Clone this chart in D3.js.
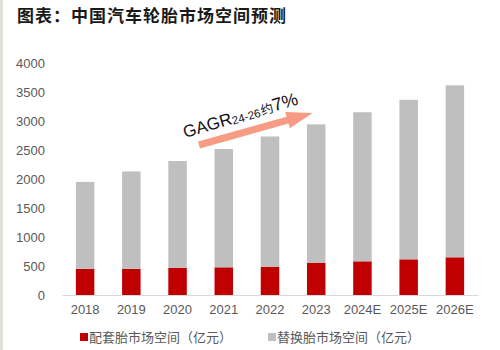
<!DOCTYPE html>
<html>
<head>
<meta charset="utf-8">
<script src="https://cdn.jsdelivr.net/npm/d3@7"></script>
<style>
  body { margin: 0; background: #fff; }
  svg { display: block; font-family: "Liberation Sans", Arial, sans-serif; }
</style>
</head>
<body>
<div id="chart"></div>
<script>
// 中国汽车轮胎市场空间预测 (亿元)
const years = ["2018", "2019", "2020", "2021", "2022", "2023", "2024E", "2025E", "2026E"];
const oemValues = [450, 450, 470, 477, 483, 552, 581, 615, 650];          // 配套胎
const replaceValues = [1500, 1680, 1840, 2040, 2250, 2390, 2570, 2750, 2965]; // 替换胎
const yTicks = [0, 500, 1000, 1500, 2000, 2500, 3000, 3500, 4000];
const seriesNames = ["配套胎市场空间（亿元）", "替换胎市场空间（亿元）"];
const colors = ["#C00000", "#BFBFBF"];

const width = 500, height = 350;
const margin = { top: 63, right: 22, bottom: 55, left: 62 };

const svg = d3.select("#chart").append("svg")
    .attr("width", width)
    .attr("height", height);

// left page edge strip
svg.append("rect")
    .attr("x", 0).attr("y", 0)
    .attr("width", 3).attr("height", height)
    .attr("fill", "#e4e1da");

svg.append("text")
    .attr("x", 17)
    .attr("y", 22)
    .style("font-family", "'Noto Sans CJK SC', sans-serif")
    .style("font-size", "17px")
    .style("font-weight", "bold")
    .style("letter-spacing", "1px")
    .attr("fill", "#1a1a1a")
    .text("图表：中国汽车轮胎市场空间预测");

const data = years.map((y, i) => ({ year: y, oem: oemValues[i], rep: replaceValues[i] }));
const stacked = d3.stack().keys(["oem", "rep"])(data);

const x = d3.scaleBand()
    .domain(years)
    .range([margin.left, width - margin.right])
    .paddingInner(0.6)
    .paddingOuter(0.3);

const y = d3.scaleLinear()
    .domain([0, 4000])
    .range([height - margin.bottom, margin.top]);

// y labels
svg.append("g")
    .attr("transform", "translate(45,0)")
    .call(d3.axisLeft(y).tickValues(yTicks).tickFormat(d3.format("d")).tickSize(0).tickPadding(0))
    .call(g => g.select(".domain").remove())
    .selectAll("text")
    .style("font-family", "'Liberation Sans', Arial, sans-serif")
    .style("font-size", "13px")
    .attr("fill", "#595959");

// bars
svg.selectAll("g.series")
    .data(stacked)
    .join("g")
    .attr("class", "series")
    .attr("fill", (d, i) => colors[i])
    .selectAll("rect")
    .data(d => d)
    .join("rect")
    .attr("x", d => x(d.data.year))
    .attr("y", d => y(d[1]))
    .attr("width", x.bandwidth())
    .attr("height", d => y(d[0]) - y(d[1]));

// x axis
const xAxis = svg.append("g")
    .attr("transform", `translate(0,${height - margin.bottom})`)
    .call(d3.axisBottom(x).tickSize(0).tickPadding(10).tickSizeOuter(0));
xAxis.select(".domain").attr("stroke", "#d9d9d9").attr("stroke-width", 1.2);
xAxis.selectAll("text")
    .style("font-family", "'Liberation Sans', Arial, sans-serif")
    .style("font-size", "13px")
    .attr("fill", "#595959");

// CAGR arrow annotation
const arrow = svg.append("g")
    .attr("transform", "translate(199,145) rotate(-15.7)");
arrow.append("path")
    .attr("d", "M0,-3.6 L92,-3.6 L92,-8.5 L118,0 L92,8.5 L92,3.6 L0,3.6 Z")
    .attr("fill", "#F79C84");

const label = svg.append("text")
    .attr("transform", "translate(185,138) rotate(-16.5)")
    .attr("fill", "#111");
label.append("tspan").style("font-size", "17px").text("GAGR");
label.append("tspan").style("font-size", "11.5px").attr("dy", 1).text("24-26");
label.append("tspan").style("font-size", "12.5px").attr("dy", -1).attr("dx", 1)
    .style("font-family", "'Noto Sans CJK SC', sans-serif").text("约");
label.append("tspan").style("font-size", "18px").text("7%");

// legend
const legend = svg.append("g").attr("transform", "translate(0,338)");
const legendX = [80, 268];
seriesNames.forEach((name, i) => {
    legend.append("rect")
        .attr("x", legendX[i])
        .attr("y", -5)
        .attr("width", 8)
        .attr("height", 8)
        .attr("fill", colors[i]);
    legend.append("text")
        .attr("x", legendX[i] + 9)
        .attr("y", 4)
        .style("font-family", "'Noto Sans CJK SC', sans-serif")
        .style("font-size", "13px")
        .attr("fill", "#595959")
        .text(name);
});
</script>
</body>
</html>
